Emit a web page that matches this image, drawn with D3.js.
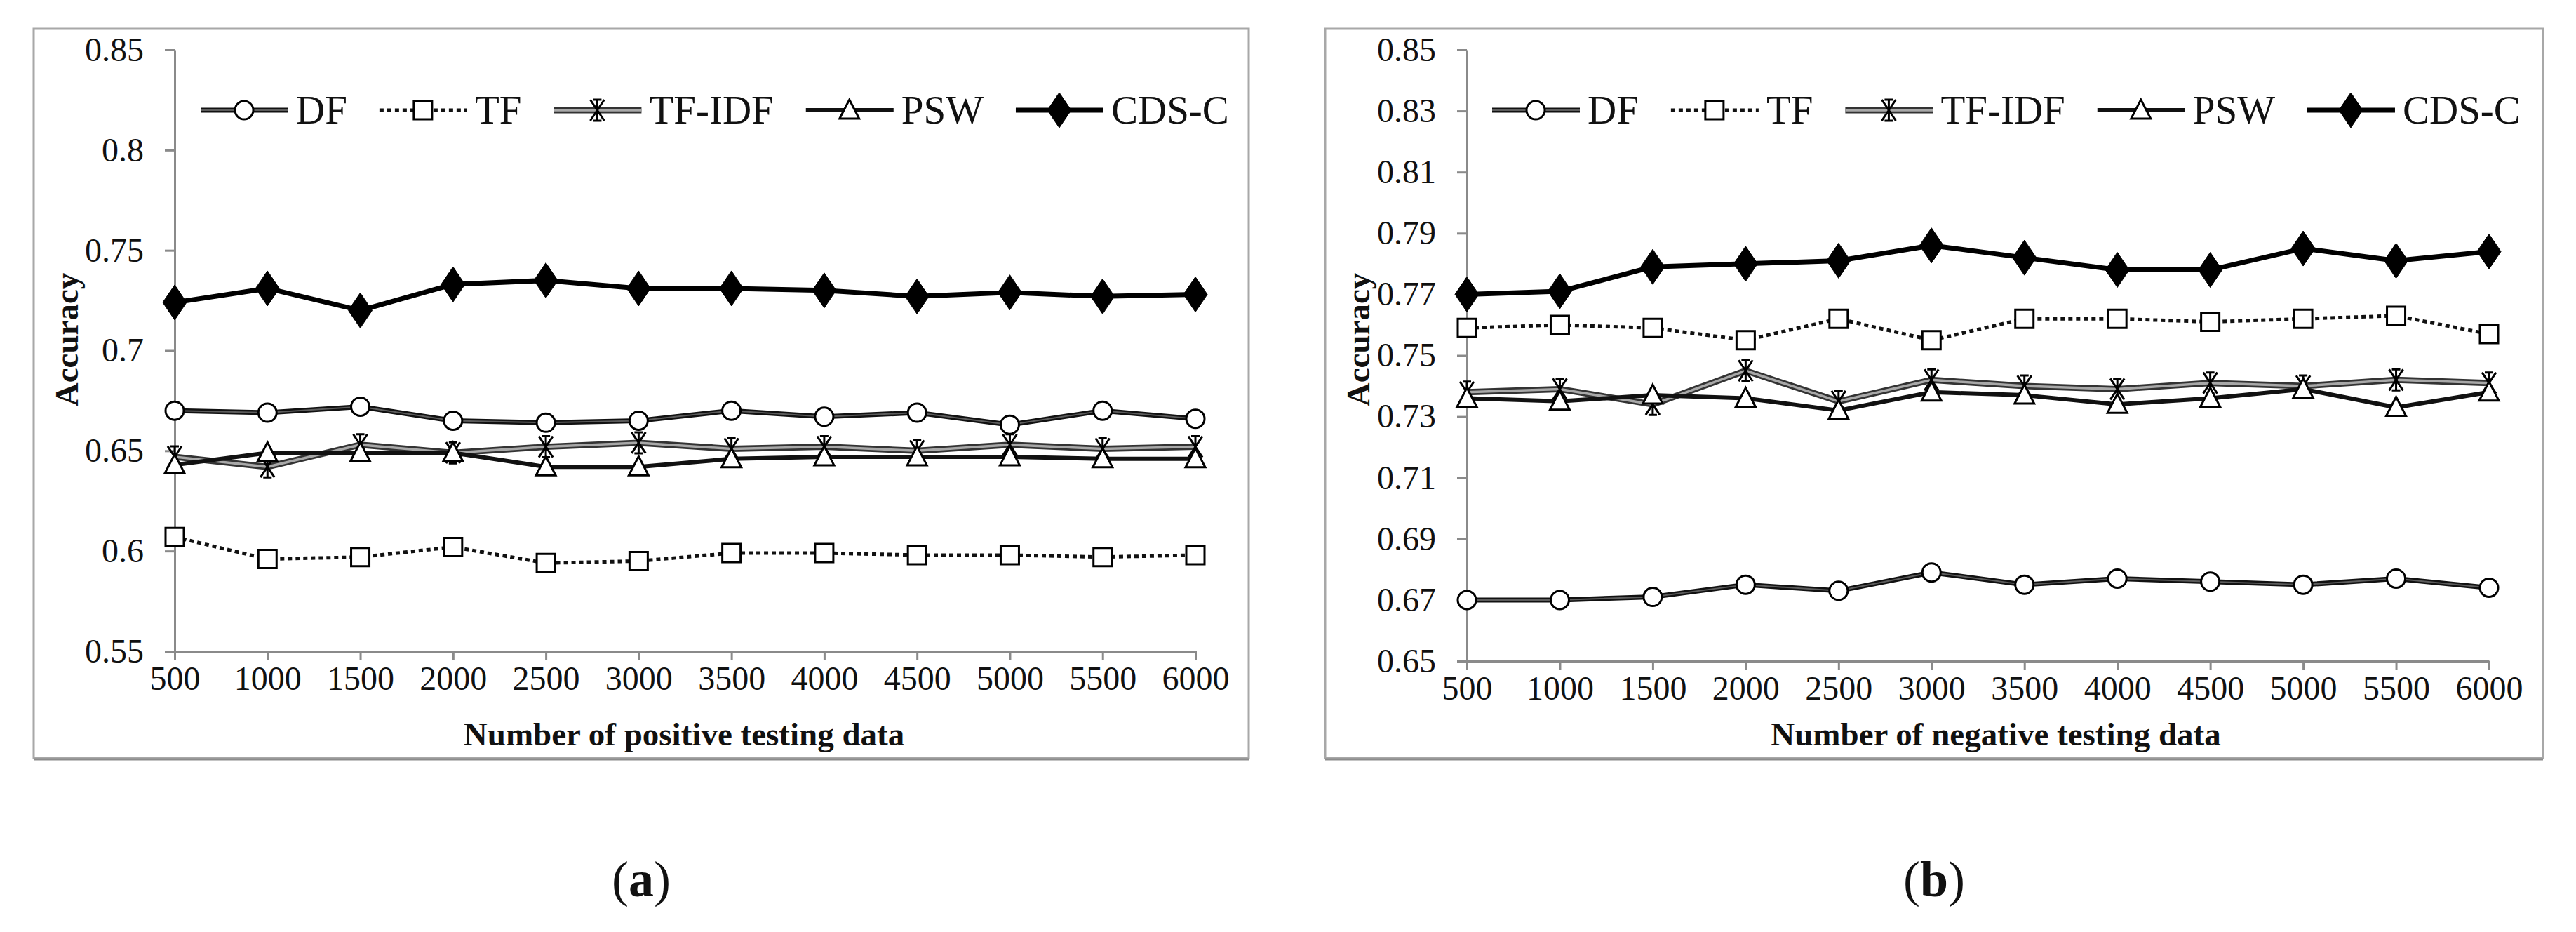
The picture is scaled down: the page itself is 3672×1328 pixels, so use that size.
<!DOCTYPE html>
<html>
<head>
<meta charset="utf-8">
<script src="https://cdn.jsdelivr.net/npm/d3@7"></script>
<style>
  body { margin: 0; background: #fff; }
  text { font-family: "Liberation Serif", "Times New Roman", serif; fill: #111; }
</style>
</head>
<body>
<div id="chart"></div>
<script>
// x categories shared by both panels
const testSizes = [500, 1000, 1500, 2000, 2500, 3000, 3500, 4000, 4500, 5000, 5500, 6000];
const seriesNames = ["DF", "TF", "TF-IDF", "PSW", "CDS-C"];

// (a) positive testing data
const posDF    = [0.670, 0.669, 0.672, 0.665, 0.664, 0.665, 0.670, 0.667, 0.669, 0.663, 0.670, 0.666];
const posTF    = [0.607, 0.596, 0.597, 0.602, 0.594, 0.595, 0.599, 0.599, 0.598, 0.598, 0.597, 0.598];
const posTFIDF = [0.647, 0.642, 0.653, 0.649, 0.652, 0.654, 0.651, 0.652, 0.650, 0.653, 0.651, 0.652];
const posPSW   = [0.643, 0.649, 0.649, 0.649, 0.642, 0.642, 0.646, 0.647, 0.647, 0.647, 0.646, 0.646];
const posCDSC  = [0.724, 0.731, 0.720, 0.733, 0.735, 0.731, 0.731, 0.730, 0.727, 0.729, 0.727, 0.728];
const posYTicks = [0.55, 0.6, 0.65, 0.7, 0.75, 0.8, 0.85];

// (b) negative testing data
const negDF    = [0.670, 0.670, 0.671, 0.675, 0.673, 0.679, 0.675, 0.677, 0.676, 0.675, 0.677, 0.674];
const negTF    = [0.759, 0.760, 0.759, 0.755, 0.762, 0.755, 0.762, 0.762, 0.761, 0.762, 0.763, 0.757];
const negTFIDF = [0.738, 0.739, 0.734, 0.745, 0.735, 0.742, 0.740, 0.739, 0.741, 0.740, 0.742, 0.741];
const negPSW   = [0.736, 0.735, 0.737, 0.736, 0.732, 0.738, 0.737, 0.734, 0.736, 0.739, 0.733, 0.738];
const negCDSC  = [0.770, 0.771, 0.779, 0.780, 0.781, 0.786, 0.782, 0.778, 0.778, 0.785, 0.781, 0.784];
const negYTicks = [0.65, 0.67, 0.69, 0.71, 0.73, 0.75, 0.77, 0.79, 0.81, 0.83, 0.85];

const W = 3672, H = 1328;

const svg = d3.select('#chart')
    .append('svg')
    .attr('width', W)
    .attr('height', H);

// line / marker look for each series
const styles = {
    "DF":     {outer: "#111", outerW: 7, inner: "#5c5c5c", innerW: 2, dash: null, marker: "circle"},
    "TF":     {outer: "#111", outerW: 5, inner: null, dash: "6,5", marker: "square"},
    "TF-IDF": {outer: "#333", outerW: 9, inner: "#a8a8a8", innerW: 3.5, dash: null, marker: "star"},
    "PSW":    {outer: "#111", outerW: 6, inner: null, dash: null, marker: "triangle"},
    "CDS-C":  {outer: "#000", outerW: 7, inner: null, dash: null, marker: "diamond"}
};

function markerPath(type) {
    if (type === "circle") return d3.symbol(d3.symbolCircle, Math.PI * 13 * 13)();
    if (type === "square") return "M-13,-13H13V13H-13Z";
    if (type === "triangle") return "M0,-15L14,12L-14,12Z";
    if (type === "diamond") return "M0,-25L17,0L0,25L-17,0Z";
    // star: X with vertical bar and caps
    return "M-10,-15L10,15M10,-15L-10,15M0,-15V15M-6,-15H6M-6,15H6";
}

function drawMarker(g, type, x, y) {
    let p = g.append('path')
        .attr('d', markerPath(type))
        .attr('transform', "translate(" + x + "," + y + ")")
        .attr('stroke', '#000')
        .attr('stroke-width', 3)
        .attr('stroke-linejoin', 'miter');
    if (type === "diamond") p.attr('fill', '#000').attr('stroke-width', 1);
    else if (type === "star") p.attr('fill', 'none');
    else p.attr('fill', '#fff');
}

function drawLineStyled(g, d, st) {
    g.append('path')
        .attr('d', d)
        .attr('fill', 'none')
        .attr('stroke', st.outer)
        .attr('stroke-width', st.outerW)
        .attr('stroke-dasharray', st.dash)
        .attr('stroke-linejoin', 'round');
    if (st.inner) {
        g.append('path')
            .attr('d', d)
            .attr('fill', 'none')
            .attr('stroke', st.inner)
            .attr('stroke-width', st.innerW)
            .attr('stroke-linejoin', 'round');
    }
}

function drawPanel(p) {
    let g = svg.append('g');

    // frame
    g.append('rect')
        .attr('x', p.box[0]).attr('y', p.box[1])
        .attr('width', p.box[2]).attr('height', p.box[3])
        .attr('fill', '#fff')
        .attr('stroke', '#a8a8a8')
        .attr('stroke-width', 3);
    g.append('line')
        .attr('x1', p.box[0]).attr('x2', p.box[0] + p.box[2])
        .attr('y1', p.box[1] + p.box[3] + 2).attr('y2', p.box[1] + p.box[3] + 2)
        .attr('stroke', '#8c8c8c')
        .attr('stroke-width', 3);

    let xScale = d3.scaleLinear()
        .domain([testSizes[0], testSizes[testSizes.length - 1]])
        .range([p.left, p.right]);

    let yScale = d3.scaleLinear()
        .domain([p.yTicks[0], p.yTicks[p.yTicks.length - 1]])
        .range([p.bottom, p.top]);

    let yAxisCall = d3.axisLeft(yScale)
        .tickValues(p.yTicks)
        .tickFormat(function (d) { return String(d); })
        .tickSize(14)
        .tickSizeOuter(0)
        .tickPadding(30);

    let yAxis = g.append('g')
        .attr('transform', "translate(" + p.left + ",0)")
        .call(yAxisCall);

    let xAxisCall = d3.axisBottom(xScale)
        .tickValues(testSizes)
        .tickFormat(function (d) { return String(d); })
        .tickSize(13)
        .tickSizeOuter(0)
        .tickPadding(8);

    let xAxis = g.append('g')
        .attr('transform', "translate(0," + p.bottom + ")")
        .call(xAxisCall);

    [xAxis, yAxis].forEach(function (a) {
        a.select('.domain').attr('stroke', '#8a8a8a').attr('stroke-width', 3);
        a.selectAll('.tick line').attr('stroke', '#8a8a8a').attr('stroke-width', 3);
        a.selectAll('.tick text')
            .attr('font-family', '"Liberation Serif", serif')
            .attr('font-size', 48)
            .attr('fill', '#111');
    });

    // axis titles
    g.append('text')
        .attr('x', p.xTitleX)
        .attr('y', 1062)
        .attr('text-anchor', 'middle')
        .attr('font-size', 47)
        .attr('font-weight', 'bold')
        .text(p.xTitle);

    g.append('text')
        .attr('transform', "translate(" + p.yTitleX + ",484) rotate(-90)")
        .attr('text-anchor', 'middle')
        .attr('dominant-baseline', 'central')
        .attr('font-size', 47)
        .attr('font-weight', 'bold')
        .text("Accuracy");

    // series
    let lineGen = d3.line()
        .x(function (d, i) { return xScale(testSizes[i]); })
        .y(function (d) { return yScale(d); });

    p.series.forEach(function (vals, k) {
        let st = styles[seriesNames[k]];
        let sg = g.append('g');
        drawLineStyled(sg, lineGen(vals), st);
        vals.forEach(function (v, i) {
            drawMarker(sg, st.marker, xScale(testSizes[i]), yScale(v));
        });
    });

    // legend
    let lx = p.legendX, ly = 157;
    seriesNames.forEach(function (name) {
        let st = styles[name];
        let lg = g.append('g');
        drawLineStyled(lg, "M" + lx + "," + ly + "H" + (lx + 125), st);
        drawMarker(lg, st.marker, lx + 62, ly);
        let t = lg.append('text')
            .attr('x', lx + 136)
            .attr('y', ly + 19)
            .attr('font-size', 57)
            .text(name);
        lx = lx + 136 + t.node().getComputedTextLength() + 46;
    });

    // panel label
    let lab = svg.append('text')
        .attr('x', p.box[0] + p.box[2] / 2)
        .attr('y', 1277)
        .attr('text-anchor', 'middle')
        .attr('font-size', 72);
    lab.append('tspan').text("(");
    lab.append('tspan').attr('font-weight', 'bold').text(p.label);
    lab.append('tspan').text(")");
}

drawPanel({
    box: [48, 41, 1732, 1039],
    left: 249, right: 1704, top: 71, bottom: 928,
    yTicks: posYTicks,
    series: [posDF, posTF, posTFIDF, posPSW, posCDSC],
    xTitle: "Number of positive testing data",
    xTitleX: 975,
    yTitleX: 95,
    legendX: 286,
    label: "a"
});

drawPanel({
    box: [1889, 41, 1736, 1039],
    left: 2091, right: 3548, top: 71, bottom: 942,
    yTicks: negYTicks,
    series: [negDF, negTF, negTFIDF, negPSW, negCDSC],
    xTitle: "Number of negative testing data",
    xTitleX: 2845,
    yTitleX: 1936,
    legendX: 2127,
    label: "b"
});
</script>
</body>
</html>
